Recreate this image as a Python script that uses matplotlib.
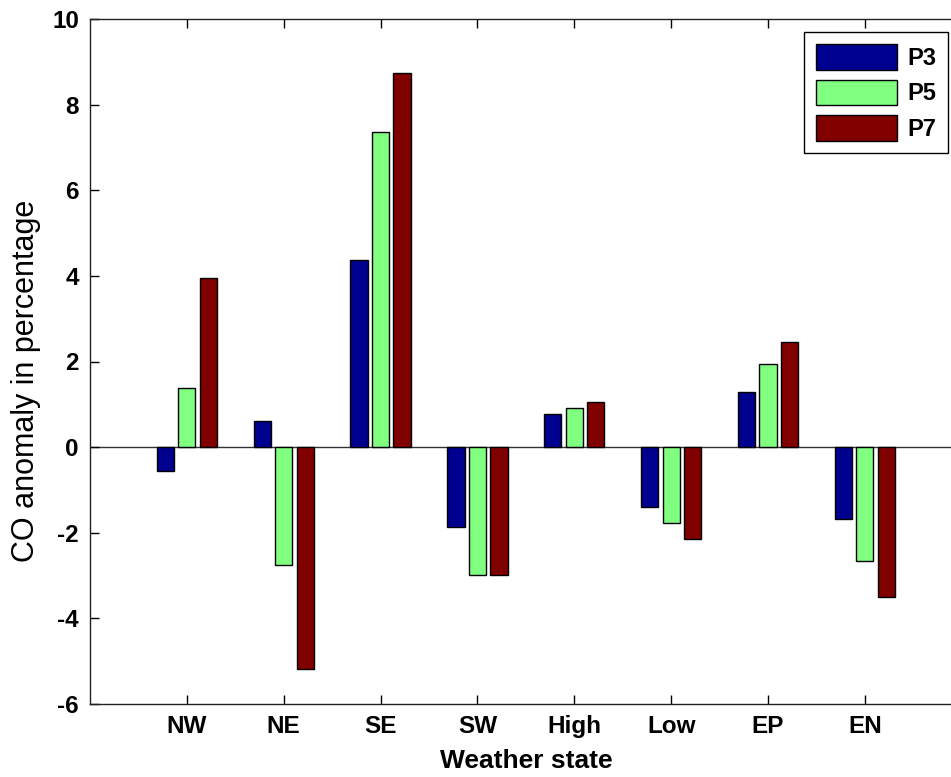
import numpy as np
import matplotlib
matplotlib.use("Agg")
import matplotlib.pyplot as plt

plt.rcParams['font.family'] = ['Liberation Sans', 'DejaVu Sans']
plt.rcParams['axes.unicode_minus'] = False

# weather states and CO anomaly (%) for each period
states = ['NW', 'NE', 'SE', 'SW', 'High', 'Low', 'EP', 'EN']
series_names = ['P3', 'P5', 'P7']
p3 = [-0.55, 0.62, 4.37, -1.86, 0.78, -1.39, 1.28, -1.69]
p5 = [1.37, -2.75, 7.37, -2.98, 0.91, -1.77, 1.93, -2.65]
p7 = [3.94, -5.18, 8.73, -2.98, 1.05, -2.15, 2.45, -3.51]
colors = ['#00008F', '#80FF80', '#800000']

fig = plt.figure(figsize=(9.51, 7.77), dpi=100)
# axes run a little past the right edge of the image, as in the original
ax = fig.add_axes([90 / 951, 73 / 777, 871.7 / 951, 685 / 777])

x = np.arange(1, len(states) + 1)
step = 0.222
width = 0.178
for i, (vals, name, c) in enumerate(zip([p3, p5, p7], series_names, colors)):
    ax.bar(x + (i - 1) * step, vals, width, color=c, edgecolor='black',
           linewidth=1.0, label=name, zorder=2)

ax.axhline(0, color='#333333', linewidth=1.0, zorder=1)

ax.set_xlim(0, 9)
ax.set_ylim(-6, 10)
ax.set_xticks(x)
ax.set_xticklabels(states)
ax.set_yticks(np.arange(-6, 11, 2))

ax.tick_params(direction='in', length=6.5, width=1, top=True, right=True,
               labelsize=17.5, pad=8)
for lab in ax.get_xticklabels() + ax.get_yticklabels():
    lab.set_fontweight('bold')
for sp in ax.spines.values():
    sp.set_linewidth(1.0)
    sp.set_color('#222222')

ax.set_xlabel('Weather state', fontsize=19, fontweight='bold', labelpad=8)
ax.set_ylabel('CO anomaly in percentage', fontsize=22, labelpad=8)
ax.yaxis.label.set_y(0.4715)  # sits a bit below the middle in the original

leg = ax.legend(loc='upper right', bbox_to_anchor=(948 / 951, 1 - 32 / 777),
                bbox_transform=fig.transFigure, borderaxespad=0,
                prop={'weight': 'bold', 'size': 17},
                handlelength=3.4, handleheight=1.3, handletextpad=0.45,
                labelspacing=0.42, borderpad=0.5, fancybox=False,
                framealpha=1, edgecolor='black')
leg.get_frame().set_linewidth(1.0)

fig.savefig('out.png', dpi=100)
